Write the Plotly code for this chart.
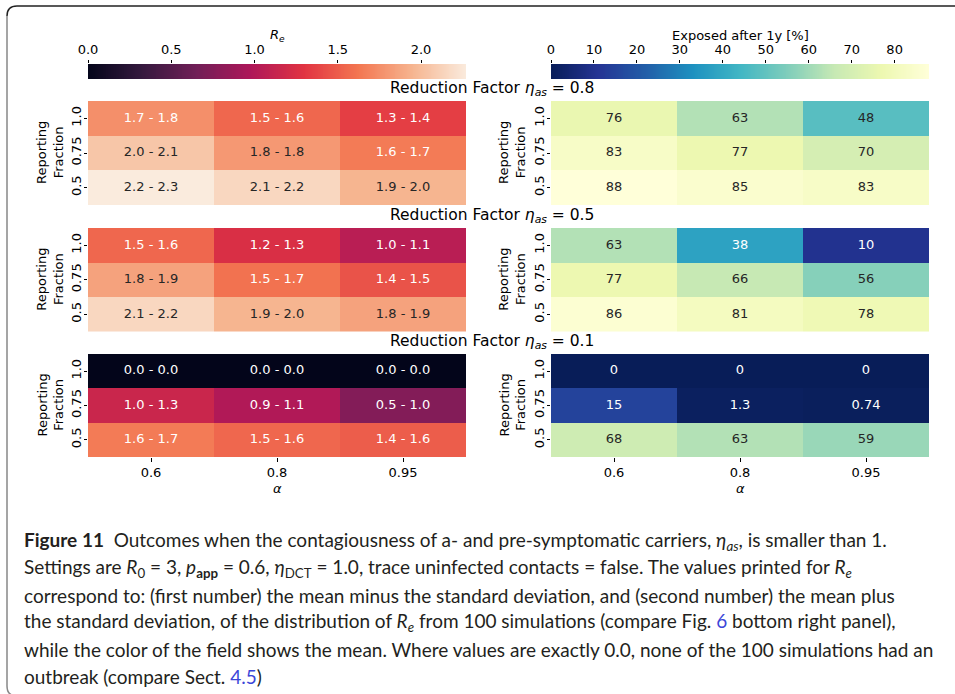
import numpy as np
import plotly.graph_objects as go

W, H = 955, 694

# ---------------------------------------------------------------- data
alphas = ["0.6", "0.8", "0.95"]
fractions = ["1.0", "0.75", "0.5"]          # rows, top to bottom
eta_values = ["0.8", "0.5", "0.1"]          # one row of panels per reduction factor

# R_e: mean - sd, mean + sd and mean (rows = reporting fraction 1.0, 0.75, 0.5)
re_low_08 = [[1.7, 1.5, 1.3], [2.0, 1.8, 1.6], [2.2, 2.1, 1.9]]
re_high_08 = [[1.8, 1.6, 1.4], [2.1, 1.8, 1.7], [2.3, 2.2, 2.0]]
re_mean_08 = [[1.75, 1.55, 1.35], [2.05, 1.80, 1.65], [2.27, 2.15, 1.95]]

re_low_05 = [[1.5, 1.2, 1.0], [1.8, 1.5, 1.4], [2.1, 1.9, 1.8]]
re_high_05 = [[1.6, 1.3, 1.1], [1.9, 1.7, 1.5], [2.2, 2.0, 1.9]]
re_mean_05 = [[1.55, 1.25, 1.05], [1.85, 1.60, 1.45], [2.15, 1.95, 1.85]]

re_low_01 = [[0.0, 0.0, 0.0], [1.0, 0.9, 0.5], [1.6, 1.5, 1.4]]
re_high_01 = [[0.0, 0.0, 0.0], [1.3, 1.1, 1.0], [1.7, 1.6, 1.6]]
re_mean_01 = [[0.0, 0.0, 0.0], [1.15, 1.00, 0.75], [1.65, 1.55, 1.50]]

# exposed after one year, in percent
exposed_08 = [[76, 63, 48], [83, 77, 70], [88, 85, 83]]
exposed_05 = [[63, 38, 10], [77, 66, 56], [86, 81, 78]]
exposed_01 = [[0, 0, 0], [15, 1.3, 0.74], [68, 63, 59]]

re_ticks = [0.0, 0.5, 1.0, 1.5, 2.0]
exposed_ticks = [0, 10, 20, 30, 40, 50, 60, 70, 80]

re_low = [re_low_08, re_low_05, re_low_01]
re_high = [re_high_08, re_high_05, re_high_01]
re_mean = [re_mean_08, re_mean_05, re_mean_01]
exposed = [exposed_08, exposed_05, exposed_01]

# ---------------------------------------------------------------- colours
ROCKET = ["#03051A", "#35193E", "#701F57", "#AD1759", "#E13342",
          "#F37651", "#F6B48F", "#FAEBDD"]
ROCKET_POS = [0, 1 / 7, 2 / 7, 3 / 7, 4 / 7, 5 / 7, 6 / 7, 1]
YLGNBU_R = ["#081d58", "#253494", "#225ea8", "#1d91c0", "#41b6c4",
            "#7fcdbb", "#c7e9b4", "#edf8b1", "#ffffd9"]
YLGNBU_POS = list(np.linspace(0, 1, len(YLGNBU_R)))

rocket_scale = [[p, c] for p, c in zip(ROCKET_POS, ROCKET)]
ylgnbu_scale = [[p, c] for p, c in zip(YLGNBU_POS, YLGNBU_R)]


def hex_rgb(h):
    h = h.lstrip("#")
    return np.array([int(h[i:i + 2], 16) for i in (0, 2, 4)], float) / 255


def sample(colors, pos, t):
    t = min(max(t, 0.0), 1.0)
    for k in range(len(pos) - 1):
        if pos[k] <= t <= pos[k + 1]:
            f = (t - pos[k]) / (pos[k + 1] - pos[k])
            return hex_rgb(colors[k]) * (1 - f) + hex_rgb(colors[k + 1]) * f
    return hex_rgb(colors[-1])


def text_color(colors, pos, t):
    rgb = sample(colors, pos, t)
    lin = np.where(rgb <= 0.03928, rgb / 12.92, ((rgb + 0.055) / 1.055) ** 2.4)
    lum = 0.2126 * lin[0] + 0.7152 * lin[1] + 0.0722 * lin[2]
    return "#262626" if lum > 0.408 else "#ffffff"


re_max = max(max(max(r) for r in m) for m in re_mean)
ex_max = max(max(max(r) for r in m) for m in exposed)

# ---------------------------------------------------------------- layout geometry (pixels)
def px(x):
    return x / W


def py(y):
    return 1 - y / H


LEFT = (88, 466)
RIGHT = (551, 929)
ROWS = [(101, 205), (228, 331.5), (354, 457)]
CBAR = (64, 79)

FONT = "DejaVu Sans"
fig = go.Figure()
layout = {}


def axis_key(kind, n):
    return kind + ("" if n == 1 else str(n))


def add_heatmap(n, z, zmax, colors, pos, labels, xdom, ydom, bottom):
    xa, ya = "x" + ("" if n == 1 else str(n)), "y" + ("" if n == 1 else str(n))
    scale = [[p, c] for p, c in zip(pos, colors)]
    fig.add_trace(go.Heatmap(z=z, x=alphas, y=fractions, zmin=0, zmax=zmax,
                             colorscale=scale, showscale=False, xaxis=xa, yaxis=ya,
                             hoverinfo="skip"))
    xs, ys, txt, col = [], [], [], []
    for i, fr in enumerate(fractions):
        for j, al in enumerate(alphas):
            xs.append(al)
            ys.append(fr)
            txt.append(labels[i][j])
            col.append(text_color(colors, pos, z[i][j] / zmax))
    fig.add_trace(go.Scatter(x=xs, y=ys, text=txt, mode="text", xaxis=xa, yaxis=ya,
                             textfont=dict(family=FONT, size=13, color=col),
                             hoverinfo="skip", showlegend=False))
    layout[axis_key("xaxis", n)] = dict(
        domain=[px(xdom[0]), px(xdom[1])], anchor=ya, type="category",
        range=[-0.5, 2.5], showgrid=False, zeroline=False, showline=False,
        automargin=False,
        ticks="outside" if bottom else "", ticklen=3.5, tickwidth=0.8,
        tickcolor="black", showticklabels=bottom,
        tickfont=dict(family=FONT, size=13, color="black"))
    layout[axis_key("yaxis", n)] = dict(
        domain=[py(ydom[1]), py(ydom[0])], anchor=xa, type="category",
        range=[2.5, -0.5], showgrid=False, zeroline=False, showline=False,
        automargin=False, ticklabelstandoff=-3,
        ticks="outside", ticklen=3.5, tickwidth=0.8, tickcolor="black",
        tickangle=-90, tickfont=dict(family=FONT, size=13, color="black"))


n = 1
for k in range(3):
    re_lab = [[f"{re_low[k][i][j]:.1f} - {re_high[k][i][j]:.1f}" for j in range(3)]
              for i in range(3)]
    ex_lab = [[format(exposed[k][i][j], ".2g") for j in range(3)] for i in range(3)]
    add_heatmap(n, re_mean[k], re_max, ROCKET, ROCKET_POS, re_lab, LEFT, ROWS[k], k == 2)
    add_heatmap(n + 1, exposed[k], ex_max, YLGNBU_R, YLGNBU_POS, ex_lab, RIGHT, ROWS[k], k == 2)
    n += 2


def add_colorbar(n, zmax, scale, xdom, ticks, ticktext):
    xa, ya = "x" + str(n), "y" + str(n)
    grad = np.linspace(0, zmax, 400)
    fig.add_trace(go.Heatmap(z=[grad], x=grad, y=[0], zmin=0, zmax=zmax,
                             colorscale=scale, showscale=False, xaxis=xa, yaxis=ya,
                             hoverinfo="skip"))
    layout["xaxis" + str(n)] = dict(
        domain=[px(xdom[0]), px(xdom[1])], anchor=ya, side="top", range=[0, zmax],
        showgrid=False, zeroline=False, showline=False, ticks="outside",
        automargin=False,
        ticklen=3.5, tickwidth=0.8, tickcolor="black", tickvals=ticks,
        ticktext=ticktext, tickfont=dict(family=FONT, size=13, color="black"))
    layout["yaxis" + str(n)] = dict(
        domain=[py(CBAR[1]), py(CBAR[0])], anchor=xa, range=[-0.5, 0.5],
        automargin=False,
        showgrid=False, zeroline=False, showline=False, showticklabels=False, ticks="")


add_colorbar(7, re_max, rocket_scale, LEFT, re_ticks, [f"{t:.1f}" for t in re_ticks])
add_colorbar(8, ex_max, ylgnbu_scale, RIGHT, exposed_ticks, [str(t) for t in exposed_ticks])

# ---------------------------------------------------------------- text
ann = []


def text(x, y, s, size=13, angle=0, xanchor="center", family=FONT, color="black"):
    ann.append(dict(x=px(x), y=py(y), xref="paper", yref="paper", text=s,
                    showarrow=False, xanchor=xanchor, yanchor="middle",
                    textangle=angle, font=dict(family=family, size=size, color=color)))


text((LEFT[0] + LEFT[1]) / 2, 35, "<i>R<sub>e</sub></i>")
text((RIGHT[0] + RIGHT[1]) / 2, 35, "Exposed after 1y [%]")

title_y = [89, 216, 342]
for k, eta in enumerate(eta_values):
    text(492, title_y[k], f"Reduction Factor <i>η<sub>as</sub></i> = {eta}", size=15.5)
    yc = (ROWS[k][0] + ROWS[k][1]) / 2
    text(50, yc, "Reporting<br>Fraction", angle=-90)
    text(512, yc, "Reporting<br>Fraction", angle=-90)

text((LEFT[0] + LEFT[1]) / 2, 488, "<i>α</i>")
text((RIGHT[0] + RIGHT[1]) / 2, 488, "<i>α</i>")

CAP = "Lato"
CAP_COLOR = "#231f20"
LINK = "#3b46d8"
caption = [
    "<b>Figure 11</b>\u00a0\u00a0Outcomes when the contagiousness of a- and pre-symptomatic "
    "carriers, <i>η<sub>as</sub></i>, is smaller than 1.",
    "Settings are <i>R</i><sub>0</sub> = 3, <i>p</i><sub><b>app</b></sub> = 0.6, "
    "<i>η</i><sub>DCT</sub> = 1.0, trace uninfected contacts = false. The values printed for "
    "<i>R<sub>e</sub></i>",
    "correspond to: (first number) the mean minus the standard deviation, and (second number) "
    "the mean plus",
    "the standard deviation, of the distribution of <i>R<sub>e</sub></i> from 100 simulations "
    f"(compare Fig. <span style='color:{LINK}'>6</span> bottom right panel),",
    "while the color of the field shows the mean. Where values are exactly 0.0, none of the "
    "100 simulations had an",
    f"outbreak (compare Sect. <span style='color:{LINK}'>4.5</span>)",
]
cap_y = [541, 568, 595, 622, 649, 676]
for s, y in zip(caption, cap_y):
    text(22, y, s, size=19, xanchor="left", family=CAP, color=CAP_COLOR)

# ---------------------------------------------------------------- frame
shapes = [
    dict(type="path", xref="paper", yref="paper",
         path=f"M {px(W + 5)},{py(6)} L {px(17)},{py(6)} Q {px(7)},{py(6)} {px(7)},{py(16)}",
         line=dict(color="#222222", width=1.5)),
    dict(type="path", xref="paper", yref="paper",
         path=f"M {px(7)},{py(16)} L {px(7)},{py(686)} Q {px(7)},{py(696)} {px(17)},{py(696)}",
         line=dict(color="#888888", width=1.5)),
]

fig.update_layout(
    width=W, height=H, margin=dict(l=0, r=0, t=0, b=0, autoexpand=False),
    paper_bgcolor="white", plot_bgcolor="white", showlegend=False,
    annotations=ann, shapes=shapes, **layout)

fig.write_html("out.html")
